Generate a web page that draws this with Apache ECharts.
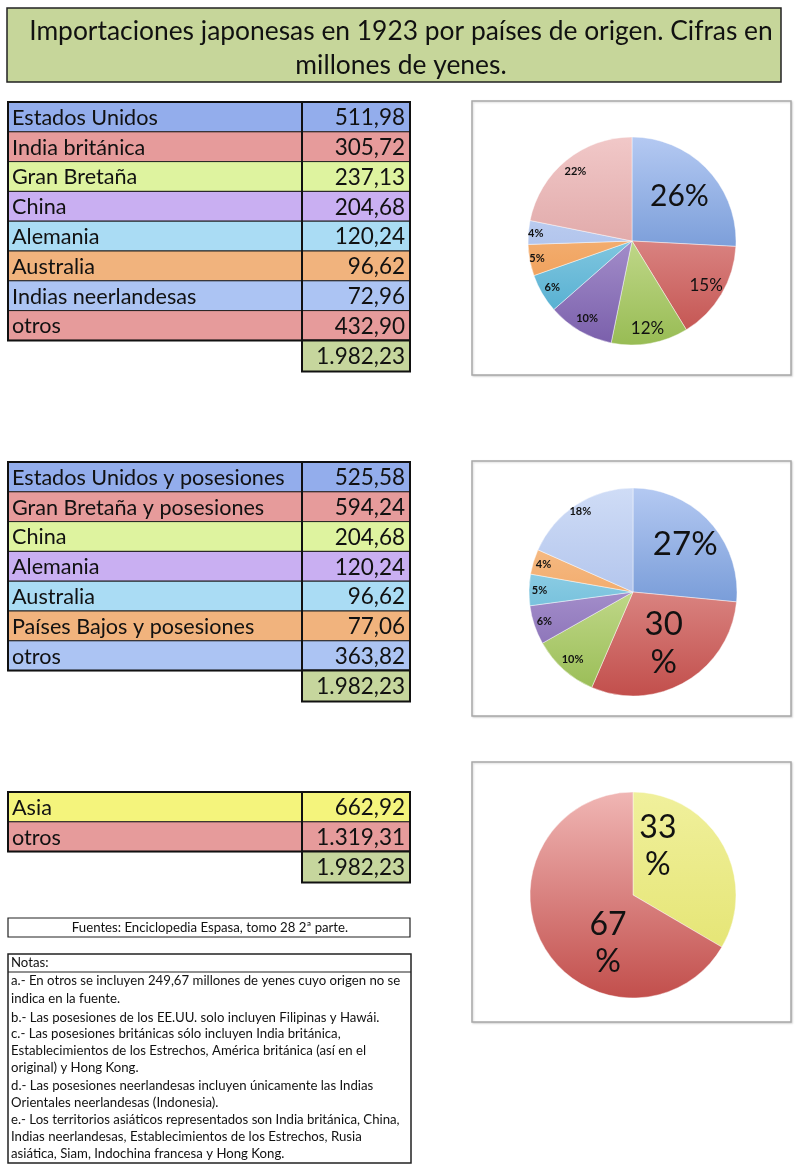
<!DOCTYPE html>
<html>
<head>
<meta charset="utf-8">
<script src="https://cdn.jsdelivr.net/npm/echarts@6/dist/echarts.min.js"></script>
<style>
html,body{margin:0;padding:0;background:#fff;}
#chart{width:800px;height:1172px;}
</style>
</head>
<body>
<div id="chart"></div>
<script>
// ---------- DATA ----------
const titleLines = ['Importaciones japonesas en 1923 por países de origen. Cifras en', 'millones de yenes.'];
const countries1 = ['Estados Unidos', 'India británica', 'Gran Bretaña', 'China', 'Alemania', 'Australia', 'Indias neerlandesas', 'otros'];
const values1 = [511.98, 305.72, 237.13, 204.68, 120.24, 96.62, 72.96, 432.90];
const countries2 = ['Estados Unidos y posesiones', 'Gran Bretaña y posesiones', 'China', 'Alemania', 'Australia', 'Países Bajos y posesiones', 'otros'];
const values2 = [525.58, 594.24, 204.68, 120.24, 96.62, 77.06, 363.82];
const countries3 = ['Asia', 'otros'];
const values3 = [662.92, 1319.31];
const grandTotal = 1982.23;
const sourceText = 'Fuentes: Enciclopedia Espasa, tomo 28 2ª parte.';
const notesTitle = 'Notas:';
const notesLines = [
  'a.- En otros se incluyen 249,67 millones de yenes cuyo origen no se',
  'indica en la fuente.',
  'b.- Las posesiones de los EE.UU. solo incluyen Filipinas y Hawái.',
  'c.- Las posesiones británicas sólo incluyen India británica,',
  'Establecimientos de los Estrechos, América británica (así en el',
  'original) y Hong Kong.',
  'd.- Las posesiones neerlandesas incluyen únicamente las Indias',
  'Orientales neerlandesas (Indonesia).',
  'e.- Los territorios asiáticos representados son India británica, China,',
  'Indias neerlandesas, Establecimientos de los Estrechos, Rusia',
  'asiática, Siam, Indochina francesa y Hong Kong.'
];

// ---------- STYLES ----------
const FONT = 'Lato, "Open Sans", sans-serif';
const cellBlue = '#93adec', cellRed = '#e69b9b', cellGreen = '#def39f', cellPurple = '#c9aff2',
      cellAqua = '#aadcf4', cellOrange = '#f1b37d', cellBlue2 = '#acc4f3', cellTotal = '#c6d69d', cellYellow = '#f4f47c';
const tableColors1 = [cellBlue, cellRed, cellGreen, cellPurple, cellAqua, cellOrange, cellBlue2, cellRed];
const tableColors2 = [cellBlue, cellRed, cellGreen, cellPurple, cellAqua, cellOrange, cellBlue2];
const tableColors3 = [cellYellow, cellRed];

const G = {
  blue: ['#b4c9f2', '#4a79c4'], red: ['#f0b6b4', '#c24f4c'], green: ['#e6f2bc', '#98bc54'],
  purple: ['#cbbbe8', '#7a5fab'], aqua: ['#bce6f4', '#44a6cb'], orange: ['#f9cb9e', '#ec8e3e'],
  blue2: ['#cfdcf6', '#98b0e4'], red2: ['#f1c8c8', '#d28e8e'], yellow: ['#f0f09c', '#e2e26a']
};
const pieColors1 = [G.blue, G.red, G.green, G.purple, G.aqua, G.orange, G.blue2, G.red2];
const pieColors2 = [G.blue, G.red, G.green, G.purple, G.aqua, G.orange, G.blue2];
const pieColors3 = [G.yellow, G.red];
// label styling per slice: font size, radial position (fraction of radius), line break
const labelSize1 = [30, 17, 17, 11, 11, 11, 11, 11];
const labelPos1  = [0.6, 0.8, 0.83, 0.83, 0.86, 0.9, 0.9, 0.83];
const labelSize2 = [33, 33, 11, 11, 11, 11, 11];
const labelPos2  = [0.65, 0.55, 0.84, 0.87, 0.87, 0.87, 0.9];
const labelBreak2 = [false, true, false, false, false, false, false];
const labelSize3 = [32, 32];
const labelPos3  = [0.5, 0.5];
const labelBreak3 = [true, true];

function fmt(v) {
  const parts = v.toFixed(2).split('.');
  const intPart = parts[0].replace(/\B(?=(\d{3})+(?!\d))/g, '.');
  return intPart + ',' + parts[1];
}

const graphics = [];
// Title
graphics.push({type:'rect', shape:{x:7, y:8, width:774, height:74}, style:{fill:'#c6d69a', stroke:'#222', lineWidth:1.5}});
titleLines.forEach((t, i) => {
  graphics.push({type:'text', x:401, y:31 + i*34, style:{text:t, font:'26.4px ' + FONT, fill:'#111', align:'center', verticalAlign:'middle'}});
});

function drawTable(labels, values, colors, top) {
  const L = 8, D = 302, R = 410, H = 29.8;
  labels.forEach((lab, i) => {
    const y = top + i*H;
    graphics.push({type:'rect', shape:{x:L, y:y, width:D-L, height:H}, style:{fill:colors[i], stroke:'#222', lineWidth:1}});
    graphics.push({type:'rect', shape:{x:D, y:y, width:R-D, height:H}, style:{fill:colors[i], stroke:'#222', lineWidth:1}});
    graphics.push({type:'text', x:L+4, y:y+H/2+1, style:{text:lab, font:'21.6px ' + FONT, fill:'#111', verticalAlign:'middle'}});
    graphics.push({type:'text', x:R-5, y:y+H/2+1, style:{text:fmt(values[i]), font:'22.5px ' + FONT, fill:'#111', align:'right', verticalAlign:'middle'}});
  });
  const bottom = top + labels.length*H;
  graphics.push({type:'rect', shape:{x:L, y:top, width:R-L, height:bottom-top}, style:{fill:'none', stroke:'#111', lineWidth:2}});
  graphics.push({type:'line', shape:{x1:D, y1:top, x2:D, y2:bottom}, style:{stroke:'#111', lineWidth:2}});
  graphics.push({type:'rect', shape:{x:D, y:bottom, width:R-D, height:31}, style:{fill:cellTotal, stroke:'#111', lineWidth:2}});
  graphics.push({type:'text', x:R-5, y:bottom+16.5, style:{text:fmt(grandTotal), font:'22.5px ' + FONT, fill:'#111', align:'right', verticalAlign:'middle'}});
}
drawTable(countries1, values1, tableColors1, 102);
drawTable(countries2, values2, tableColors2, 462);
drawTable(countries3, values3, tableColors3, 792);

// Pie frames
[[472,101,319,274],[472,461,319,255],[472,762,319,260]].forEach(b => {
  graphics.push({type:'rect', shape:{x:b[0], y:b[1], width:b[2], height:b[3]}, style:{fill:'#fff', stroke:'#a8a8a8', lineWidth:1.5, shadowColor:'rgba(0,0,0,0.15)', shadowBlur:2, shadowOffsetX:1, shadowOffsetY:1}, z:-10});
});

// Source box
graphics.push({type:'rect', shape:{x:8, y:918, width:402, height:19}, style:{fill:'#fff', stroke:'#222', lineWidth:1.2}});
graphics.push({type:'text', x:210, y:928, style:{text:sourceText, font:'13.2px ' + FONT, fill:'#111', align:'center', verticalAlign:'middle'}});

// Notes box
graphics.push({type:'rect', shape:{x:8, y:954, width:403, height:209}, style:{fill:'#fff', stroke:'#222', lineWidth:1.5}});
graphics.push({type:'line', shape:{x1:8, y1:972, x2:411, y2:972}, style:{stroke:'#222', lineWidth:1.2}});
graphics.push({type:'text', x:11, y:963, style:{text:notesTitle, font:'13.2px ' + FONT, fill:'#111', verticalAlign:'middle'}});
const noteY = [981, 999, 1018, 1034, 1051, 1068, 1086, 1103, 1120, 1137, 1154];
notesLines.forEach((t, i) => {
  graphics.push({type:'text', x:11, y:noteY[i], style:{text:t, font:'13.2px ' + FONT, fill:'#111', verticalAlign:'middle'}});
});

function grad(c, cy, r) {
  return {type:'linear', x:0, y:cy - r, x2:0, y2:cy + r, global:true,
    colorStops:[{offset:0, color:c[0]}, {offset:1, color:c[1]}]};
}

function pieSeries(names, vals, colors, sizes, pos, breaks, cx, cy, r, labelStart) {
  const out = [{
    type: 'pie', center: [cx, cy], radius: [0, r], startAngle: 90, clockwise: true,
    silent: true, animation: false,
    itemStyle: {borderColor: 'rgba(255,255,255,0.55)', borderWidth: 0.8},
    label: {show: false}, labelLine: {show: false},
    data: vals.map((v, i) => ({name: names[i], value: v, itemStyle: {color: grad(colors[i], cy, r)}}))
  }];
  const fracs = Array.from(new Set(pos));
  fracs.forEach(f => {
    const inner = Math.max(0, 2*f - 1) * r;
    out.push({
      type: 'pie', center: [cx, cy], radius: [inner, r], startAngle: labelStart, clockwise: true,
      silent: true, animation: false, avoidLabelOverlap: false,
      itemStyle: {color: 'rgba(0,0,0,0)', borderWidth: 0},
      labelLine: {show: false},
      data: vals.map((v, i) => ({
        name: names[i], value: v,
        label: {
          show: pos[i] === f, position: 'inside', color: '#111', fontFamily: FONT,
          fontSize: sizes[i], lineHeight: sizes[i] * 1.15,
          fontWeight: sizes[i] <= 12 ? 'bold' : 'normal',
          formatter: (p) => Math.round(p.percent) + (breaks && breaks[i] ? '\n%' : '%')
        }
      }))
    });
  });
  return out;
}

const series = [].concat(
  pieSeries(countries1, values1, pieColors1, labelSize1, labelPos1, null, 632, 241, 104, 90),
  pieSeries(countries2, values2, pieColors2, labelSize2, labelPos2, labelBreak2, 633, 592, 104, 90),
  pieSeries(countries3, values3, pieColors3, labelSize3, labelPos3, labelBreak3, 633, 895, 103, 123)
);

const chart = echarts.init(document.getElementById('chart'), null, {renderer:'canvas'});
chart.setOption({
  animation: false,
  graphic: {elements: graphics},
  series: series
});
</script>
</body>
</html>
